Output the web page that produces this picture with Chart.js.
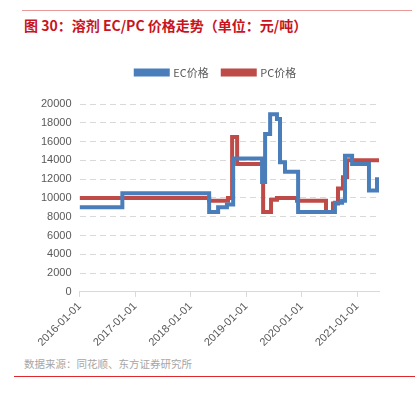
<!DOCTYPE html>
<html>
<head>
<meta charset="utf-8">
<script src="https://cdn.jsdelivr.net/npm/chart.js@4.4.0/dist/chart.umd.min.js"></script>
<style>
  body { margin: 0; background: #fff; width: 419px; height: 398px; position: relative; overflow: hidden; font-family: "Noto Sans CJK SC", sans-serif; }
  #topline { position: absolute; left: 22px; top: 10px; width: 390px; height: 1px; background: #e89a9a; }
  #title { position: absolute; left: 24px; top: 15px; font-size: 14px; font-weight: bold; color: #c8141e; white-space: nowrap; }
  #wrap { position: absolute; left: 0; top: 50px; }
  #source { position: absolute; left: 24px; top: 356px; font-size: 10.5px; color: #a6a6a6; white-space: nowrap; }
  #bottomline { position: absolute; left: 14px; top: 376px; width: 401px; height: 1px; background: #e0282c; }
</style>
</head>
<body>
<div id="topline"></div>
<div id="title">图 30：溶剂 EC/PC 价格走势（单位：元/吨）</div>
<div id="wrap"><canvas id="mycanvas" width="419" height="302"></canvas></div>
<div id="source">数据来源：同花顺、东方证券研究所</div>
<div id="bottomline"></div>
<script>
// price change dates and the new price from that date on
var ecDates = ['2016-01-01','2016-10-09','2018-05-03','2018-07-01','2018-08-28','2018-10-08','2019-04-16','2019-05-06','2019-06-08','2019-07-23','2019-08-12','2019-09-14','2019-12-09','2020-08-08','2020-09-24','2020-10-13','2020-11-29','2021-03-20','2021-05-12','2021-05-25'];
var ecValues = [9000,10500,8500,9000,9300,14200,11700,16800,18900,18400,13800,12800,8500,9500,9700,14500,13600,10800,12000,12000];

var pcDates = ['2016-01-01','2018-05-03','2018-09-04','2018-10-01','2018-11-03','2019-04-23','2019-06-14','2019-07-23','2019-12-02','2020-06-10','2020-07-26','2020-08-28','2020-09-30','2020-10-27','2021-05-25'];
var pcValues = [10000,9700,10000,16500,13600,8500,9800,10000,9700,8500,9400,11000,12200,14000,14000];

var yearTicks = [2016,2017,2018,2019,2020,2021];

function toYear(s) {
	var d = new Date(s + 'T00:00:00Z');
	var y = d.getUTCFullYear();
	var start = Date.UTC(y, 0, 1), end = Date.UTC(y + 1, 0, 1);
	return y + (d.getTime() - start) / (end - start);
}
function points(dates, vals) {
	var out = [];
	for (var i in dates) out.push({x: toYear(dates[i]), y: vals[i]});
	return out;
}

var blue = '#4a7ebb';
var red = '#be4b48';
var grey = '#595959';

// extra room under the legend, and nudge it right a bit
var legendGap = {
	id: 'legendGap',
	beforeInit: function(chart) {
		var fit = chart.legend.fit;
		chart.legend.fit = function() {
			fit.bind(chart.legend)();
			this.height += 16;
		};
	},
	afterLayout: function(chart) {
		chart.legend.left += 10;
		chart.legend.right += 10;
	}
};

var ctx = document.getElementById('mycanvas');
new Chart(ctx, {
	type: 'line',
	data: {
		datasets: [
			{ label: 'EC价格', data: points(ecDates, ecValues), borderColor: blue, backgroundColor: blue, borderWidth: 4, pointRadius: 0, stepped: true },
			{ label: 'PC价格', data: points(pcDates, pcValues), borderColor: red, backgroundColor: red, borderWidth: 4, pointRadius: 0, stepped: true }
		]
	},
	plugins: [legendGap],
	options: {
		responsive: false,
		animation: false,
		layout: { padding: { left: 33, right: 40, top: 3, bottom: 0 } },
		plugins: {
			tooltip: { enabled: false },
			legend: {
				position: 'top',
				labels: { boxWidth: 32, boxHeight: 4, color: grey, font: { size: 11, family: '"Noto Sans CJK SC", sans-serif' }, padding: 14 }
			}
		},
		scales: {
			x: {
				type: 'linear',
				min: 2016,
				max: toYear('2021-05-25'),
				afterBuildTicks: function(scale) { scale.ticks = yearTicks.map(function(v){ return {value: v}; }); },
				ticks: {
					color: grey, font: { size: 11, family: '"Liberation Sans", sans-serif' },
					minRotation: 45, maxRotation: 45, autoSkip: false,
					callback: function(v) { return v + '-01-01'; }
				},
				grid: { display: true, drawOnChartArea: false, drawTicks: true, tickLength: 5, color: '#d9d9d9' },
				border: { color: '#d9d9d9', width: 1 }
			},
			y: {
				min: 0, max: 20000,
				ticks: { stepSize: 2000, color: grey, font: { size: 11, family: '"Liberation Sans", sans-serif' }, padding: 8,
					callback: function(v) { return String(v); } },
				grid: { color: '#d9d9d9', drawTicks: false },
				border: { display: false, dash: [6, 4] }
			}
		}
	}
});
</script>
</body>
</html>
